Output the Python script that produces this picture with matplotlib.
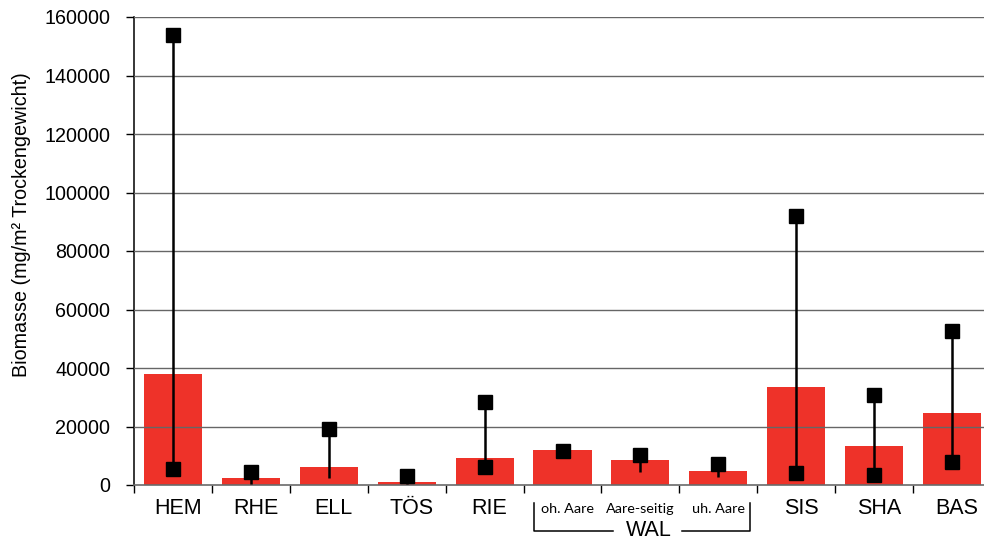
import matplotlib
matplotlib.use("Agg")
import matplotlib.pyplot as plt
from matplotlib.lines import Line2D

# Site categories (WAL split into three sub-sites)
sites = ["HEM", "RHE", "ELL", "TÖS", "RIE", "oh. Aare", "Aare-seitig", "uh. Aare", "SIS", "SHA", "BAS"]
wal_subsites = ["oh. Aare", "Aare-seitig", "uh. Aare"]
group_label = "WAL"

# Mean biomass per site (mg/m² dry weight)
biomass_mean = [38000, 2500, 6200, 1000, 9200, 12000, 8500, 4800, 33500, 13300, 24600]
# Range of single samples
biomass_max = [154000, 4300, 19000, 3200, 28500, 11500, 10200, 7100, 92000, 30900, 52500]
biomass_min = [5400, 300, 2500, 300, 6100, 11000, 4300, 2700, 4000, 3300, 7700]
# Whether the minimum is marked with a square
min_marked = [True, False, False, False, True, False, False, False, True, True, True]

yticks = [0, 20000, 40000, 60000, 80000, 100000, 120000, 140000, 160000]

W, H = 984, 543
fig = plt.figure(figsize=(W / 100, H / 100), dpi=100)
left, right, top, bottom = 134, 991, 17, 485
ax = fig.add_axes([left / W, (H - bottom) / H, (right - left) / W, (bottom - top) / H])

font_main = "Liberation Sans"
font_sub = "Lato"
red = "#ee3229"

x = list(range(len(sites)))
ax.bar(x, biomass_mean, width=0.745, color=red, zorder=2)

# gridlines drawn over the bars
for yv in yticks[1:]:
    ax.axhline(yv, color="#666666", lw=1.0, zorder=3)

# range lines and markers
for xi, lo, hi, mk in zip(x, biomass_min, biomass_max, min_marked):
    ax.plot([xi, xi], [lo, hi], color="black", lw=1.8, zorder=4, solid_capstyle="butt")
    ax.plot([xi], [hi], marker="s", ms=9.4, color="black", ls="none", zorder=5)
    if mk:
        ax.plot([xi], [lo], marker="s", ms=9.4, color="black", ls="none", zorder=5)

ax.set_xlim(-0.5, len(sites) - 0.5)
ax.set_ylim(0, 160000)
ax.set_yticks(yticks)
ax.set_yticklabels([str(v) for v in yticks], fontfamily=font_main, fontsize=14.2)
ax.tick_params(axis="y", direction="out", length=6, width=1, pad=11, colors="black")

# category boundary ticks on the x axis
ax.set_xticks([i - 0.5 for i in range(len(sites) + 1)])
ax.set_xticklabels([])
ax.tick_params(axis="x", direction="out", length=5.5, width=1, colors="black")

for s in ["top", "right"]:
    ax.spines[s].set_visible(False)
ax.spines["left"].set_color("black")
ax.spines["left"].set_linewidth(1.1)
ax.spines["bottom"].set_color("#6a6a6a")
ax.spines["bottom"].set_linewidth(1.2)
ax.spines["bottom"].set_zorder(3)

# category labels
for xi, name in zip(x, sites):
    if name in wal_subsites:
        dx = 5 if name == "oh. Aare" else 0
        ax.annotate(name, xy=(xi, 0), xycoords="data", xytext=(dx, -509 + bottom),
                    textcoords="offset pixels", ha="center", va="center",
                    fontfamily=font_sub, fontsize=10.4, annotation_clip=False)
    else:
        ax.annotate(name, xy=(xi, 0), xycoords="data", xytext=(5, -508 + bottom),
                    textcoords="offset pixels", ha="center", va="center",
                    fontfamily=font_main, fontsize=15.5, annotation_clip=False)

# WAL group bracket
def fx(px):
    return px / W

def fy(py):
    return (H - py) / H

bracket = [
    ([534, 534, 613], [503, 531, 531]),
    ([682, 750, 750], [531, 531, 503]),
]
for xs, ys in bracket:
    fig.add_artist(Line2D([fx(v) for v in xs], [fy(v) for v in ys], color="black", lw=1.1))
fig.text(fx(648.5), fy(531), group_label, ha="center", va="center",
         fontfamily=font_main, fontsize=15.5)

fig.text(fx(22), fy(225), "Biomasse (mg/m² Trockengewicht)", rotation=90,
         ha="center", va="center", fontfamily=font_main, fontsize=14.2)

fig.savefig("out.png", dpi=100)
